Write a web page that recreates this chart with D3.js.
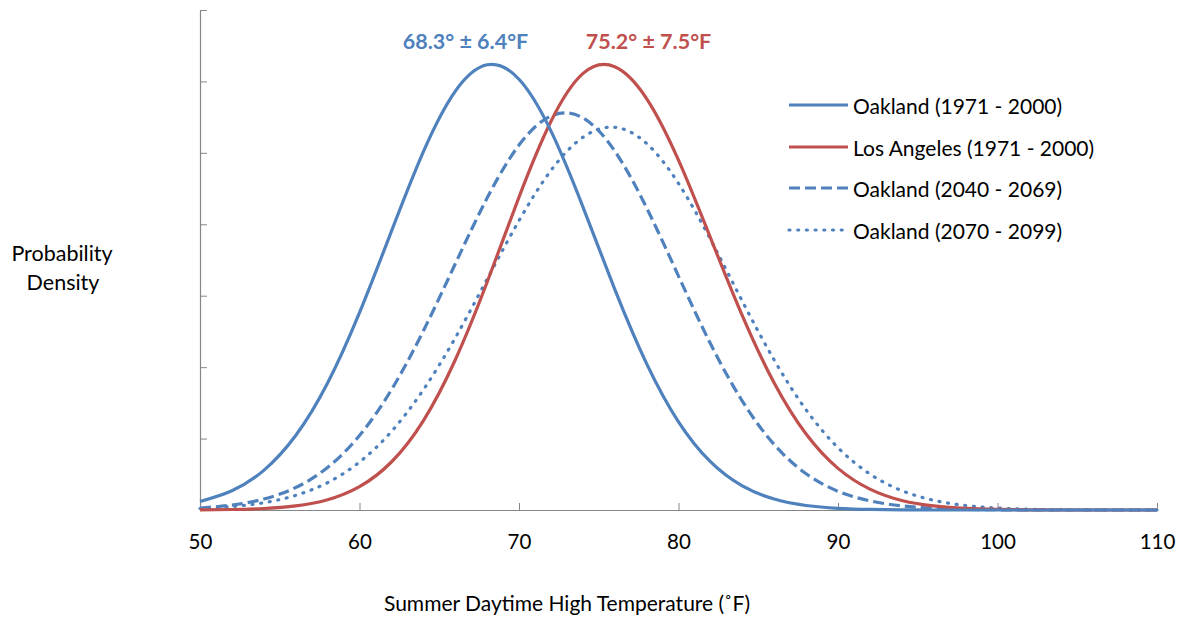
<!DOCTYPE html>
<html>
<head>
<meta charset="utf-8">
<script src="https://cdn.jsdelivr.net/npm/d3@7"></script>
<style>
  html, body { margin: 0; padding: 0; background: #fff; }
  svg { display: block; font-family: Lato, "Open Sans", sans-serif; }
</style>
</head>
<body>
<svg id="chart" width="1179" height="618"></svg>
<script>
const temps = [50,52,54,56,58,60,62,64,66,68,70,72,74,76,78,80,82,84,86,88,90,92,94,96,98,100,102,104,106,108,110];

// Probability density values
const oakland1971 = [0.00119,0.00269,0.00555,0.01042,0.01777,0.02762,0.03901,0.05014,0.05861,0.06233,0.0603,0.05307,0.04248,0.03093,0.0205,0.01235,0.00677,0.00338,0.00153,0.00063,0.00024,0.00008,0.00002,0,0,0,0,0,0,0,0];
const losAngeles1971 = [0.00002,0.00007,0.00021,0.00057,0.00144,0.00327,0.00672,0.01249,0.0210,0.03188,0.04381,0.0544,0.06109,0.06206,0.0576,0.04897,0.03813,0.0272,0.01777,0.01063,0.00583,0.00293,0.00134,0.00057,0.00022,0.00008,0.00002,0,0,0,0];
const oakland2040 = [0.00028,0.00069,0.00153,0.00314,0.00596,0.01043,0.01683,0.02506,0.03444,0.04367,0.05109,0.05515,0.0549,0.05026,0.04231,0.03275,0.0233,0.01525,0.00916,0.00508,0.00262,0.00128,0.00058,0.00024,0.00009,0.00003,0.00001,0,0,0,0];
const oakland2070 = [0.00021,0.00048,0.00102,0.00205,0.00383,0.00671,0.01098,0.01682,0.02408,0.03232,0.04051,0.04753,0.05217,0.05358,0.05131,0.04572,0.03791,0.02924,0.021,0.01402,0.00872,0.00504,0.00271,0.00136,0.00063,0.00027,0.00011,0.00004,0.00001,0,0];

const seriesNames = ["Oakland (1971 - 2000)","Los Angeles (1971 - 2000)","Oakland (2040 - 2069)","Oakland (2070 - 2099)"];
const seriesValues = [oakland1971, losAngeles1971, oakland2040, oakland2070];

const xTicks = [50,60,70,80,90,100,110];
const yTicks = [0,0.01,0.02,0.03,0.04,0.05,0.06,0.07];

const annotationTexts = ["68.3° ± 6.4°F", "75.2° ± 7.5°F"];

// ---- styles / layout ----
const seriesColors = ["#4F81BD","#C0504D","#4F81BD","#4F81BD"];
const seriesDash = [null, null, "11 5", "1 7.7"];
const seriesCap = ["butt","butt","butt","round"];
const annotationX = [465.5, 648.5];
const annotationColors = ["#4F81BD","#C0504D"];

const svg = d3.select("#chart");
const M = {left: 200, right: 1157, top: 10, bottom: 510};

const x = d3.scaleLinear().domain([50,110]).range([M.left, M.right]);
const y = d3.scaleLinear().domain([0,0.07]).range([M.bottom, M.top]);

// Axes
const xAxis = d3.axisBottom(x).tickValues(xTicks).tickSizeInner(-7).tickSizeOuter(0).tickPadding(24).tickFormat(d3.format("d"));
const gx = svg.append("g").attr("transform", `translate(0,${M.bottom})`).call(xAxis);
gx.select(".domain").attr("stroke","#868686").attr("stroke-width",1.2);
gx.selectAll(".tick line").attr("stroke","#868686").attr("stroke-width",1);
gx.selectAll(".tick text").attr("fill","#000").style("font-size","20.5px").style("font-family","Lato");

const yAxis = d3.axisLeft(y).tickValues(yTicks).tickSizeInner(-7).tickSizeOuter(0).tickFormat("");
const gy = svg.append("g").attr("transform", `translate(${M.left},0)`).call(yAxis);
gy.select(".domain").attr("stroke","#868686").attr("stroke-width",1.2);
gy.selectAll(".tick line").attr("stroke","#868686").attr("stroke-width",1);

// Lines
const line = d3.line().x((d,i)=>x(temps[i])).y(d=>y(Math.max(0,d))).curve(d3.curveNatural);
const plot = svg.append("g");
plot.append("clipPath").attr("id","clip").append("rect")
  .attr("x",M.left).attr("y",0).attr("width",M.right-M.left+2).attr("height",M.bottom+1);
[3,2,1,0].forEach(k => {
  plot.append("path")
    .datum(seriesValues[k])
    .attr("d", line)
    .attr("fill","none")
    .attr("stroke", seriesColors[k])
    .attr("stroke-width", 3.2)
    .attr("stroke-dasharray", seriesDash[k])
    .attr("stroke-linecap", seriesCap[k])
    .attr("stroke-linejoin","round");
});

// Annotations
annotationTexts.forEach((t,i) => {
  svg.append("text")
    .attr("x", annotationX[i]).attr("y", 49)
    .attr("text-anchor","middle")
    .attr("fill", annotationColors[i])
    .style("font-weight","bold")
    .style("font-size","21.5px")
    .text(t);
});

// Legend
const legY = [105, 147, 188, 230];
seriesNames.forEach((name,k) => {
  svg.append("line")
    .attr("x1",789).attr("x2",848).attr("y1",legY[k]).attr("y2",legY[k])
    .attr("stroke",seriesColors[k]).attr("stroke-width",3.2)
    .attr("stroke-dasharray",seriesDash[k]).attr("stroke-linecap",seriesCap[k]);
  svg.append("text")
    .attr("x",853).attr("y",legY[k]+9)
    .attr("fill","#000").style("font-size","21px")
    .text(name);
});

// Axis titles
svg.append("text").attr("x",567).attr("y",611).attr("text-anchor","middle")
  .attr("fill","#000").style("font-size","21px")
  .text("Summer Daytime High Temperature (˚F)");
svg.append("text").attr("x",62).attr("y",261).attr("text-anchor","middle")
  .attr("fill","#000").style("font-size","21.5px").text("Probability");
svg.append("text").attr("x",63).attr("y",290).attr("text-anchor","middle")
  .attr("fill","#000").style("font-size","21.5px").text("Density");
</script>
</body>
</html>
